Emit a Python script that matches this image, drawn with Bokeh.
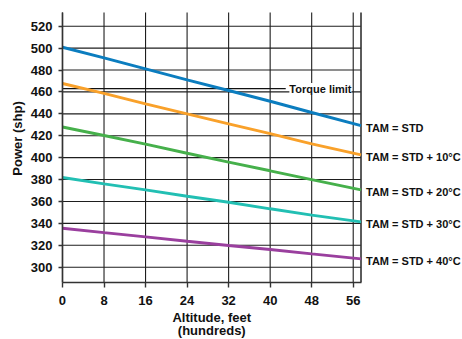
import math
from bokeh.plotting import figure
from bokeh.models import Range1d, FixedTicker, Label
from bokeh.embed import file_html
from bokeh.resources import INLINE

# ---- data ----
altitude = [0, 8, 16, 24, 32, 40, 48, 57.5]
tam_std = [500.8, 491.0, 481.0, 471.0, 461.3, 451.5, 441.2, 429.3]
tam_10 = [467.7, 458.6, 449.1, 440.0, 430.9, 422.0, 412.6, 402.5]
tam_20 = [428.0, 420.2, 412.3, 404.0, 395.9, 388.0, 380.0, 370.6]
tam_30 = [381.9, 376.1, 370.6, 364.8, 359.3, 353.3, 347.5, 341.4]
tam_40 = [335.6, 331.6, 327.7, 323.7, 319.8, 316.1, 312.2, 307.6]
series_names = ["TAM = STD", "TAM = STD + 10°C", "TAM = STD + 20°C",
                "TAM = STD + 30°C", "TAM = STD + 40°C"]
torque_limit = 463.0
torque_x = [0, 43.0]
x_ticks = [0, 8, 16, 24, 32, 40, 48, 56]
y_ticks = [300, 320, 340, 360, 380, 400, 420, 440, 460, 480, 500, 520]
x_min, x_max = 0, 57.5
y_min, y_max = 286.3, 532.5
x_title = "Altitude, feet"
x_title2 = "(hundreds)"
y_title = "Power (shp)"

colors = ["#0b7dbf", "#f9a12a", "#46b04b", "#22bfb3", "#9a3f9e"]
FONT = "Liberation Sans"
TXT = "#111111"
GRID = "#1e1e1e"
AX = "#333333"

# the frame covers the whole canvas; axes are pinned at the data edges
p = figure(width=462, height=339, output_backend="svg", toolbar_location=None,
           x_range=Range1d(-11.94, 77.05), y_range=Range1d(234.0, 543.45),
           min_border=0, min_border_left=0, min_border_right=0,
           min_border_top=0, min_border_bottom=0)
p.outline_line_color = None
p.background_fill_color = "white"
p.grid.visible = False

# grid lines limited to the chart area
n_x, n_y = len(x_ticks), len(y_ticks)
p.segment(x0=x_ticks, y0=[y_min] * n_x, x1=x_ticks, y1=[y_max] * n_x,
          line_color=GRID, line_width=1.1)
p.segment(x0=[x_min] * n_y, y0=y_ticks, x1=[x_max] * n_y, y1=y_ticks,
          line_color=GRID, line_width=1.1)
# right border
p.segment(x0=[x_max], y0=[y_min], x1=[x_max], y1=[y_max],
          line_color=AX, line_width=1.6)

# axes
p.xaxis.ticker = FixedTicker(ticks=x_ticks)
p.yaxis.ticker = FixedTicker(ticks=y_ticks)
p.xaxis.fixed_location = y_min
p.yaxis.fixed_location = x_min
p.xaxis.bounds = (x_min, x_max)
p.yaxis.bounds = (y_min, y_max)
for ax in (p.xaxis, p.yaxis):
    ax.axis_line_color = AX
    ax.axis_line_width = 1.6
    ax.major_tick_line_color = AX
    ax.major_tick_line_width = 1.4
    ax.major_tick_in = 0
    ax.major_tick_out = 5
    ax.minor_tick_line_color = None
    ax.major_label_text_font = FONT
    ax.major_label_text_font_style = "bold"
    ax.major_label_text_font_size = "13px"
    ax.major_label_text_color = TXT
p.yaxis.major_tick_out = 4
p.yaxis.major_label_standoff = 6
p.xaxis.major_label_standoff = 9

# y-axis title
p.add_layout(Label(x=-8.67, y=417.5, text=y_title, angle=math.pi / 2,
                   text_font=FONT, text_font_style="bold",
                   text_font_size="13px", text_color=TXT,
                   text_align="center", text_baseline="middle"))

# torque limit line + label
p.line(torque_x, [torque_limit, torque_limit], line_color=TXT, line_width=1.1)
p.add_layout(Label(x=torque_x[1] + 0.7, y=462.6, text="Torque limit",
                   text_font=FONT, text_font_style="bold", text_font_size="11px",
                   text_color=TXT, text_baseline="alphabetic",
                   background_fill_color="white"))

# series
all_series = [tam_std, tam_10, tam_20, tam_30, tam_40]
for vals, c, name in zip(all_series, colors, series_names):
    p.line(altitude, vals, line_color=c, line_width=2.9)
    p.add_layout(Label(x=altitude[-1], y=vals[-1], x_offset=5, y_offset=-2.5,
                       text=name, text_font=FONT, text_font_style="bold",
                       text_font_size="11px", text_color=TXT,
                       text_baseline="middle"))

# x-axis title (two lines)
x_mid = (x_min + x_max) / 2
p.add_layout(Label(x=x_mid, y=254.0, text=x_title, text_font=FONT,
                   text_font_style="bold", text_font_size="13px",
                   text_color=TXT, text_align="center",
                   text_baseline="alphabetic"))
p.add_layout(Label(x=x_mid, y=242.4, text=x_title2, text_font=FONT,
                   text_font_style="bold", text_font_size="13px",
                   text_color=TXT, text_align="center",
                   text_baseline="alphabetic"))

open("out.html", "w").write(file_html(p, INLINE))
